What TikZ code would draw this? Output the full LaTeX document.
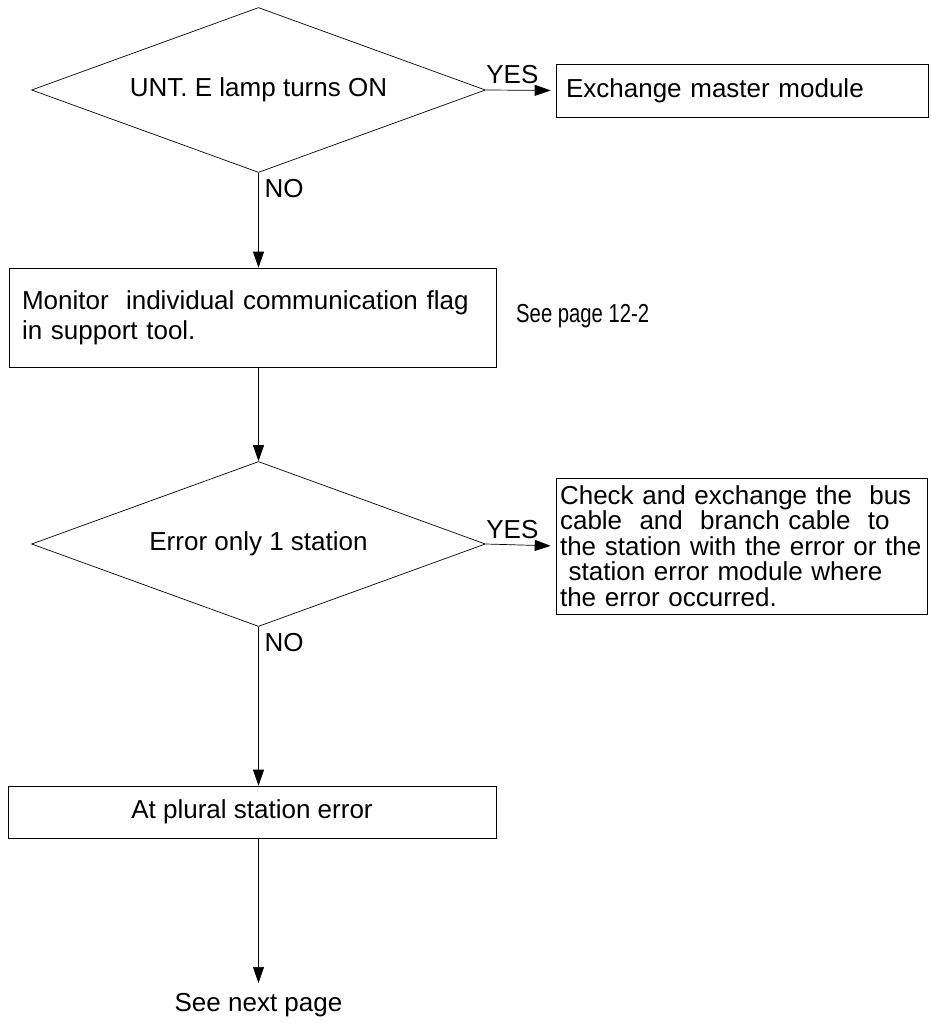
\documentclass[tikz,border=0pt]{standalone}
\usepackage{fontspec}
\setmainfont{Liberation Sans}
\usetikzlibrary{shapes.geometric, arrows.meta}

\begin{document}
\begin{tikzpicture}[x=0.02cm, y=-0.02cm, >={Triangle[length=0.32cm, width=0.22cm]},
    every node/.style={font=\fontsize{14.8}{17}\selectfont},
    decision/.style={diamond, draw, thin, inner sep=0pt, aspect=2.75, minimum width=9.08cm, minimum height=3.3cm},
    box/.style={rectangle, draw, thin, align=left, inner ysep=0pt},
    flow/.style={->, thin}]
    \useasboundingbox (0,0) rectangle (930,1023);

    % First check
    \node[decision] (d1) at (258.5, 90) {UNT. E lamp turns ON};
    \node[box, minimum height=1.06cm, text width=7.04cm, inner xsep=0.2cm] (b1) at (742, 90.5) {Exchange master module};
    \draw[flow, shorten >=0.1cm] (d1.east) -- node[above, pos=0.38] {YES} (b1.west);

    % Monitor flag
    \node[box, minimum height=1.98cm, text width=9.22cm, inner xsep=0.26cm] (b2) at (252.5, 317.5) {Monitor\ \ individual communication flag\\in support tool.};
    \node[anchor=west] (seepage) at (510, 316) {\scalebox{0.78}[1]{See page 12-2}};
    \draw[flow] (d1.south) -- node[pos=0, anchor=north west] {NO} (d1.south |- b2.north);

    % Second check
    \node[decision] (d2) at (258.5, 544) {Error only 1 station};
    \draw[flow] (d2.north |- b2.south) -- (d2.north);
    \node[box, minimum height=2.72cm, text width=7.26cm, inner xsep=0.08cm, font=\fontsize{14.8}{14.5}\selectfont] (b3) at (741.5, 546)
        {Check and exchange the\ \ bus\\cable\ \ and\ \ branch cable\ \ to\\the station with the error or the\\\ station error module where\\the error occurred.};
    \draw[flow, shorten >=0.1cm] (d2.east) -- node[above, pos=0.38] {YES} (b3.west);

    % Plural error
    \node[box, align=center, minimum width=9.76cm, minimum height=1.04cm] (b4) at (252, 812) {At plural station error};
    \draw[flow] (d2.south) -- node[pos=0, anchor=north west] {NO} (d2.south |- b4.north);

    \node[anchor=north, inner sep=0.2cm] (next) at (258.5, 983) {See next page};
    \draw[flow] (d2.south |- b4.south) -- (next);
\end{tikzpicture}
\end{document}
